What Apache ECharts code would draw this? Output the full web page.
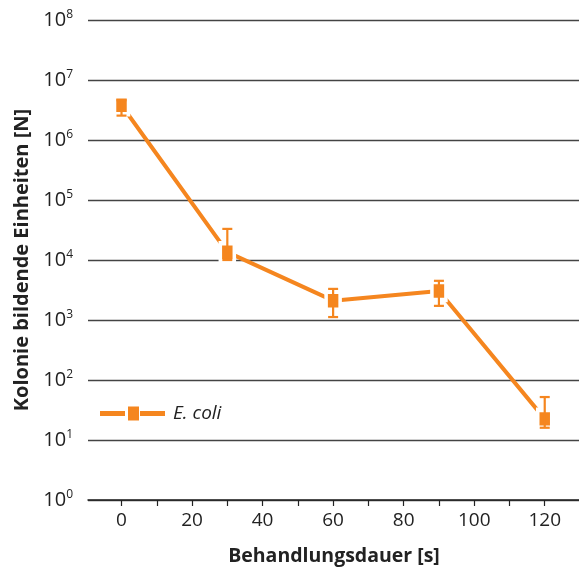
<!DOCTYPE html>
<html><head><meta charset="utf-8">
<script src="https://cdn.jsdelivr.net/npm/echarts@6/dist/echarts.min.js"></script>
<style>html,body{margin:0;padding:0;background:#fff}#c{width:579px;height:569px}</style>
</head><body><div id="c"></div>
<script>
const seriesName = 'E. coli';
const times = [0, 30, 60, 90, 120];
const cfu = [3.8e6, 1.35e4, 2.1e3, 3.05e3, 22.5];
const errLow = [2.55e6, 1.0e4, 1.12e3, 1.72e3, 16];
const errHigh = [4.6e6, 3.3e4, 3.3e3, 4.5e3, 52];
const xTickValues = [0, 10, 20, 30, 40, 50, 60, 70, 80, 90, 100, 110, 120];
const xLabelValues = [0, 20, 40, 60, 80, 100, 120];
const xTitle = 'Behandlungsdauer [s]';
const yTitle = 'Kolonie bildende Einheiten [N]';

const orange = '#F5861F';
const font = '"Open Sans", "Noto Sans", sans-serif';
const chart = echarts.init(document.getElementById('c'), null, {renderer: 'canvas'});
const lineData = times.map((t, i) => [t, cfu[i]]);
const errData = times.map((t, i) => [t, errLow[i], errHigh[i]]);
const legendIcon = 'path://M0,4.5 h25 v5 h-25 z M28,0 h11 v14 h-11 z M40,4.5 h25 v5 h-25 z';

chart.setOption({
  animation: false,
  grid: {left: 88, right: -1, top: 20, bottom: 69, containLabel: false, outerBoundsMode: 'none'},
  xAxis: {
    type: 'value', min: -9.5, max: 130,
    axisLine: {show: true, lineStyle: {color: '#222', width: 1.5}},
    axisTick: {show: true, customValues: xTickValues, length: 6, lineStyle: {color: '#222', width: 1.2}},
    axisLabel: {customValues: xLabelValues, margin: 11, fontSize: 19, color: '#222', fontFamily: font},
    splitLine: {show: false},
    name: xTitle, nameLocation: 'middle', nameGap: 46,
    nameTextStyle: {fontSize: 19.5, fontWeight: 'bold', color: '#222', fontFamily: font}
  },
  yAxis: {
    type: 'log', logBase: 10, min: 1, max: 1e8,
    axisLine: {show: false}, axisTick: {show: false},
    splitLine: {show: true, lineStyle: {color: '#444', width: 1.3}},
    axisLabel: {
      margin: 15, color: '#222', fontFamily: font,
      formatter: v => '{b|10}{s|' + Math.round(Math.log10(v)) + '}',
      rich: {
        b: {fontSize: 20, color: '#222', fontFamily: font},
        s: {fontSize: 12, color: '#222', fontFamily: font, padding: [0, 0, 10, 0]}
      }
    },
    name: yTitle, nameLocation: 'middle', nameGap: 56, nameRotate: 90,
    nameTextStyle: {fontSize: 20, fontWeight: 'bold', color: '#222', fontFamily: font}
  },
  legend: {
    left: 95, top: 399, itemWidth: 65, itemHeight: 14, itemGap: 0,
    data: [{name: seriesName, icon: legendIcon, itemStyle: {color: orange, borderWidth: 0, borderColor: 'transparent'}}],
    textStyle: {fontSize: 19, fontStyle: 'italic', color: '#222', fontFamily: font, padding: [0, 0, 0, 3], letterSpacing: 1}
  },
  series: [
    {
      name: seriesName, type: 'line', data: lineData, z: 2,
      symbol: 'rect', symbolSize: [14, 18],
      lineStyle: {color: orange, width: 4},
      itemStyle: {color: orange, borderColor: '#fff', borderWidth: 4},
      emphasis: {disabled: true}
    },
    {
      type: 'custom', z: 5, data: errData,
      renderItem: function (params, api) {
        const x = api.value(0);
        const lo = api.coord([x, api.value(1)]);
        const hi = api.coord([x, api.value(2)]);
        const w = 5;
        const st = {stroke: orange, lineWidth: 2.2};
        return {type: 'group', children: [
          {type: 'line', shape: {x1: lo[0], y1: lo[1], x2: hi[0], y2: hi[1]}, style: st},
          {type: 'line', shape: {x1: lo[0] - w, y1: lo[1], x2: lo[0] + w, y2: lo[1]}, style: st},
          {type: 'line', shape: {x1: hi[0] - w, y1: hi[1], x2: hi[0] + w, y2: hi[1]}, style: st}
        ]};
      },
      silent: true
    }
  ]
});
</script></body></html>
